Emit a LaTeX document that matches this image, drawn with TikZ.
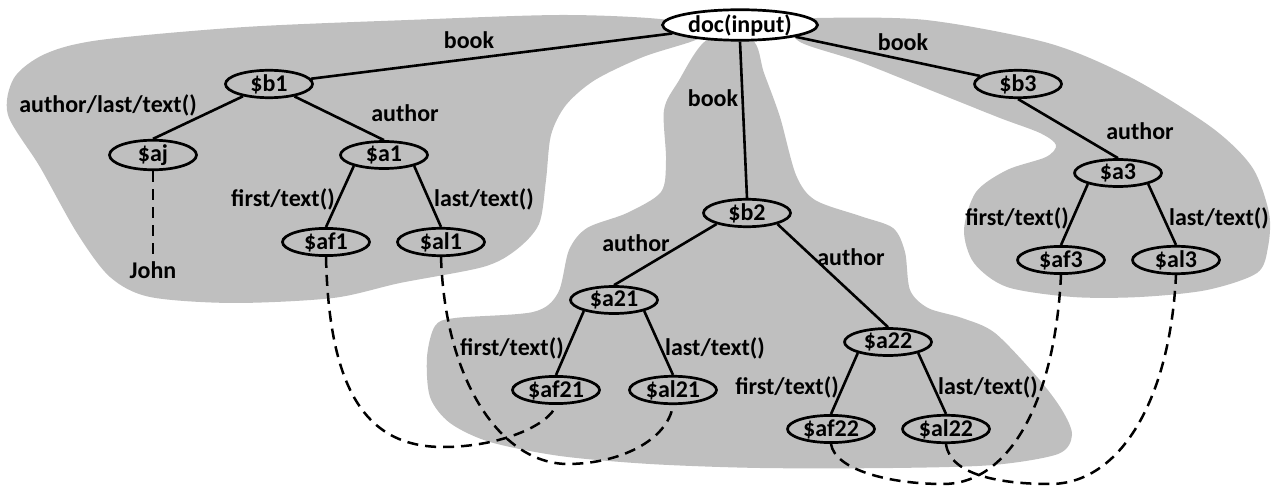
\documentclass[tikz,border=0pt]{standalone}
\usepackage{fontspec}
\setmainfont{Carlito}
\usetikzlibrary{shapes.geometric}
\definecolor{blobgray}{RGB}{191,191,191}
\begin{document}
\begin{tikzpicture}[x=1pt,y=-1pt,
  every node/.style={font=\fontsize{24}{28}\selectfont\bfseries},
  var/.style={ellipse,draw,line width=2.7pt,minimum width=87pt,minimum height=27pt,inner sep=0pt},
  edge/.style={line width=2.6pt},
  dline/.style={line width=2.5pt,dash pattern=on 11pt off 7pt},
  blob/.style={fill=blobgray,draw=none}]
\useasboundingbox (0,0) rectangle (1280,486);
% blobs
\fill[blob] plot[smooth cycle] coordinates {
  (8,115) (14,78) (45,54) (100,40) (245,27) (408,20) (560,15) (660,19) (712,30)
  (693,41) (643,57) (595,80) (566,105) (551,135) (546,180) (539,224) (516,250)
  (483,267) (400,283) (333,298) (233,303) (150,297) (110,277) (77,233) (40,167)};
\fill[blob] plot[smooth cycle] coordinates {
  (707,40) (752,40) (764,73) (780,117) (796,175) (815,200) (860,216) (893,228)
  (905,252) (910,290) (928,308) (962,318) (995,333) (1038,378) (1062,410)
  (1072,435) (1058,454) (993,465) (893,468) (760,468) (650,464) (560,456)
  (490,442) (450,423) (430,397) (427,357) (435,326) (455,318) (533,312)
  (558,293) (569,250) (587,228) (627,213) (661,192) (666,160) (664,110) (678,82)};
\fill[blob] plot[smooth cycle] coordinates {
  (790,22) (817,18) (926,20) (1048,43) (1130,77) (1211,127) (1252,167)
  (1269,213) (1268,247) (1257,273) (1207,290) (1140,297) (1073,297) (1007,287)
  (974,263) (964,230) (976,192) (1007,170) (1046,157) (1056,145) (1040,133)
  (1000,118) (940,94) (860,62) (800,42)};
% nodes
\node[var,fill=white,minimum width=155pt,minimum height=26pt] (doc) at (740,25) {doc(input)};
\node[var] (b1) at (269,84) {\$b1};
\node[var] (aj) at (153,155) {\$aj};
\node[var] (a1) at (384,155) {\$a1};
\node[var] (af1) at (326,242) {\$af1};
\node[var] (al1) at (441,242) {\$al1};
\node (john) at (153,270) {John};
\node[var] (b2) at (747,213) {\$b2};
\node[var] (a21) at (614,300) {\$a21};
\node[var] (af21) at (556,390) {\$af21};
\node[var] (al21) at (673,390) {\$al21};
\node[var] (a22) at (888,342) {\$a22};
\node[var] (af22) at (831,429) {\$af22};
\node[var] (al22) at (946,429) {\$al22};
\node[var] (b3) at (1018,84) {\$b3};
\node[var] (a3) at (1118,173) {\$a3};
\node[var] (af3) at (1061,260) {\$af3};
\node[var] (al3) at (1176,260) {\$al3};
% labels
\node (l1) at (469,40) {book};
\node (l2) at (903,42) {book};
\node (l3) at (713,98) {book};
\node (l4) at (108,105) {author/last/text()};
\node (l5) at (405,113) {author};
\node (l6) at (283,199) {first/text()};
\node (l7) at (484,199) {last/text()};
\node (l8) at (1140,131) {author};
\node (l9) at (1017,218) {first/text()};
\node (l10) at (1219,218) {last/text()};
\node (l11) at (636,243) {author};
\node (l12) at (851,257) {author};
\node (l13) at (512,348) {first/text()};
\node (l14) at (715,348) {last/text()};
\node (l15) at (787,387) {first/text()};
\node (l16) at (988,387) {last/text()};
% edges
\draw[edge] (doc) -- (b1);
\draw[edge] (doc.south) -- (b2.north);
\draw[edge] (doc) -- (b3);
\draw[edge] (b1) -- (aj.north);
\draw[edge] (b1) -- (a1.north);
\draw[edge] (a1.200) -- (af1.north);
\draw[edge] (a1.-20) -- (al1.north);
\draw[edge] (b2.200) -- (a21.north);
\draw[edge] (b2.-20) -- (a22.north);
\draw[edge] (a21.200) -- (af21.north);
\draw[edge] (a21.-20) -- (al21.north);
\draw[edge] (a22.200) -- (af22.north);
\draw[edge] (a22.-20) -- (al22.north);
\draw[edge] (b3.south) -- (a3.north);
\draw[edge] (a3.200) -- (af3.north);
\draw[edge] (a3.-20) -- (al3.north);
% dashed
\draw[dline] (aj.south) -- (john.north);
\draw[dline] (af1.south) .. controls (329,390) and (366,447) .. (443,447) .. controls (500,447) and (550,425) .. (af21.south);
\draw[dline] (al1.south) .. controls (445,380) and (500,463) .. (567,464) .. controls (620,464) and (668,440) .. (al21.south);
\draw[dline] (af22.south) .. controls (835,470) and (890,484) .. (943,484) .. controls (1010,484) and (1055,400) .. (af3.south);
\draw[dline] (al22.south) .. controls (950,475) and (1000,484) .. (1050,484) .. controls (1120,484) and (1170,400) .. (al3.south);
\end{tikzpicture}
\end{document}
